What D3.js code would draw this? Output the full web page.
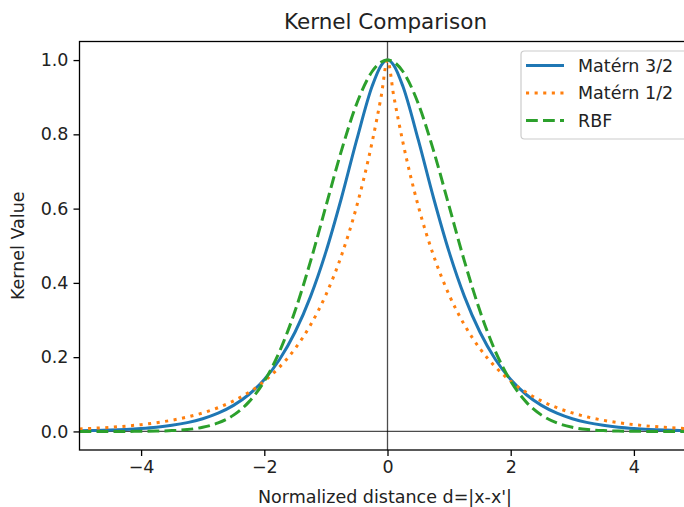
<!DOCTYPE html>
<html>
<head>
<meta charset="utf-8">
<script src="https://cdn.jsdelivr.net/npm/d3@7"></script>
<style>
  html, body { margin: 0; padding: 0; background: #fff; overflow: hidden; }
  svg { display: block; font-family: "DejaVu Sans", sans-serif; }
</style>
</head>
<body>
<svg id="chart" width="684" height="507"></svg>
<script>
// ---- data ----
const distances = [-5, -4.75, -4.5, -4.25, -4, -3.75, -3.5, -3.25, -3, -2.75, -2.5, -2.25, -2, -1.75, -1.5, -1.25, -1, -0.75, -0.5, -0.25, -0.1, 0,
  0.1, 0.25, 0.5, 0.75, 1, 1.25, 1.5, 1.75, 2, 2.25, 2.5, 2.75, 3, 3.25, 3.5, 3.75, 4, 4.25, 4.5, 4.75, 5];
const matern32 = [0.0017, 0.0025, 0.0036, 0.0053, 0.0078, 0.0113, 0.0165, 0.0238, 0.0343, 0.0492, 0.0702, 0.0994, 0.1397, 0.1945, 0.2677, 0.3631, 0.4834, 0.6272, 0.7849, 0.9295, 0.9867, 1.0,
  0.9867, 0.9295, 0.7849, 0.6272, 0.4834, 0.3631, 0.2677, 0.1945, 0.1397, 0.0994, 0.0702, 0.0492, 0.0343, 0.0238, 0.0165, 0.0113, 0.0078, 0.0053, 0.0036, 0.0025, 0.0017];
const matern12 = [0.0067, 0.0087, 0.0111, 0.0143, 0.0183, 0.0235, 0.0302, 0.0388, 0.0498, 0.0639, 0.0821, 0.1054, 0.1353, 0.1738, 0.2231, 0.2865, 0.3679, 0.4724, 0.6065, 0.7788, 0.9048, 1.0,
  0.9048, 0.7788, 0.6065, 0.4724, 0.3679, 0.2865, 0.2231, 0.1738, 0.1353, 0.1054, 0.0821, 0.0639, 0.0498, 0.0388, 0.0302, 0.0235, 0.0183, 0.0143, 0.0111, 0.0087, 0.0067];
const rbf = [0.0, 0.0, 0.0, 0.0001, 0.0003, 0.0009, 0.0022, 0.0051, 0.0111, 0.0228, 0.0439, 0.0796, 0.1353, 0.2163, 0.3247, 0.4578, 0.6065, 0.7548, 0.8825, 0.9692, 0.995, 1.0,
  0.995, 0.9692, 0.8825, 0.7548, 0.6065, 0.4578, 0.3247, 0.2163, 0.1353, 0.0796, 0.0439, 0.0228, 0.0111, 0.0051, 0.0022, 0.0009, 0.0003, 0.0001, 0.0, 0.0, 0.0];
const seriesNames = ["Matérn 3/2", "Matérn 1/2", "RBF"];
const xTicks = [-4, -2, 0, 2, 4];
const yTicks = [0.0, 0.2, 0.4, 0.6, 0.8, 1.0];
const titleText = "Kernel Comparison";
const xLabel = "Normalized distance d=|x-x'|";
const yLabel = "Kernel Value";

// ---- layout ----
const svg = d3.select("#chart");
const pL = 79.5, pR = 695.5, pT = 41.5, pB = 450;
const x = d3.scaleLinear().domain([-5, 5]).range([pL, pR]);
const y = d3.scaleLinear().domain([-0.05, 1.05]).range([pB, pT]);

svg.append("defs").append("clipPath").attr("id", "plotclip")
  .append("rect").attr("x", pL).attr("y", pT).attr("width", pR - pL).attr("height", pB - pT);

const styles = [
  { color: "#1f77b4", dash: null },
  { color: "#ff7f0e", dash: "3.1,5.5" },
  { color: "#2ca02c", dash: "11.8,5.2" }
];
const allSeries = [matern32, matern12, rbf];

const plot = svg.append("g").attr("clip-path", "url(#plotclip)");

// reference lines at 0
plot.append("line").attr("x1", pL).attr("x2", pR).attr("y1", y(0)).attr("y2", y(0))
  .attr("stroke", "#000").attr("stroke-opacity", 0.7).attr("stroke-width", 1.3);
plot.append("line").attr("x1", x(0)).attr("x2", x(0)).attr("y1", pT).attr("y2", pB)
  .attr("stroke", "#000").attr("stroke-opacity", 0.7).attr("stroke-width", 1.3);

const line = d3.line().x((d, i) => x(distances[i])).y(d => y(d)).curve(d3.curveMonotoneX);
allSeries.forEach((vals, k) => {
  const p = plot.append("path").datum(vals)
    .attr("d", line)
    .attr("fill", "none")
    .attr("stroke", styles[k].color)
    .attr("stroke-width", 3)
    .attr("stroke-linejoin", "round");
  if (styles[k].dash) p.attr("stroke-dasharray", styles[k].dash);
});

// axes
const fs = 17.5;
const xAxis = svg.append("g").attr("transform", `translate(0,${pB})`)
  .call(d3.axisBottom(x).tickValues(xTicks).tickSize(6).tickPadding(5)
    .tickFormat(d => d3.format("d")(d).replace("-", "\u2212")));
const yAxis = svg.append("g").attr("transform", `translate(${pL},0)`)
  .call(d3.axisLeft(y).tickValues(yTicks).tickSize(6).tickPadding(5).tickFormat(d3.format(".1f")));
[xAxis, yAxis].forEach(a => {
  a.select(".domain").remove();
  a.selectAll(".tick line").attr("stroke", "#000").attr("stroke-width", 1.3);
  a.selectAll(".tick text").attr("font-size", fs).attr("fill", "#222").attr("font-family", "DejaVu Sans");
});

// spines
svg.append("rect").attr("x", pL).attr("y", pT).attr("width", pR - pL).attr("height", pB - pT)
  .attr("fill", "none").attr("stroke", "#000").attr("stroke-width", 1.3);

// title & labels
svg.append("text").attr("x", 385.5).attr("y", 28.5).attr("text-anchor", "middle")
  .attr("font-size", 21.5).attr("fill", "#222").text(titleText);
svg.append("text").attr("x", 385).attr("y", 503).attr("text-anchor", "middle")
  .attr("font-size", fs).attr("fill", "#222").text(xLabel);
svg.append("text").attr("transform", `translate(24,${(pT + pB) / 2}) rotate(-90)`)
  .attr("text-anchor", "middle").attr("font-size", fs).attr("fill", "#222").text(yLabel);

// legend
const lg = svg.append("g");
lg.append("rect").attr("x", 521).attr("y", 51).attr("width", 166).attr("height", 88)
  .attr("rx", 3.5).attr("fill", "#fff").attr("fill-opacity", 0.8)
  .attr("stroke", "#ccc").attr("stroke-width", 1.2);
seriesNames.forEach((name, k) => {
  const yy = 65.5 + k * 27.5;
  const l = lg.append("line").attr("x1", 526).attr("x2", 564).attr("y1", yy).attr("y2", yy)
    .attr("stroke", styles[k].color).attr("stroke-width", 3);
  if (styles[k].dash) l.attr("stroke-dasharray", styles[k].dash);
  lg.append("text").attr("x", 578).attr("y", yy + 6.2).attr("font-size", fs).attr("fill", "#222").text(name);
});
</script>
</body>
</html>
